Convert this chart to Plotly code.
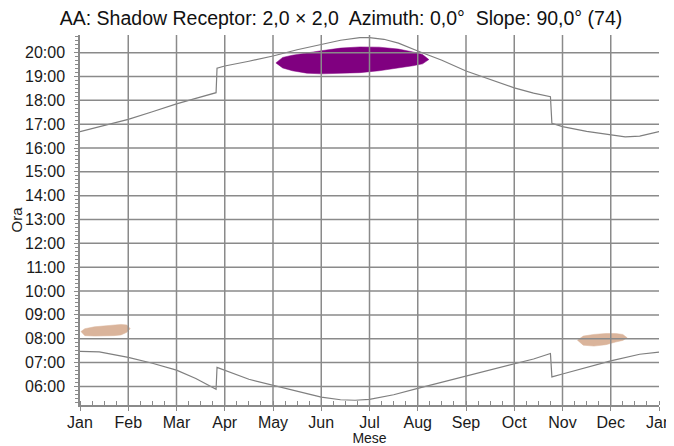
import plotly.graph_objects as go

# month axis: 0 = 1 Jan, 12 = 1 Jan next year
months = ["Jan", "Feb", "Mar", "Apr", "May", "Jun", "Jul",
          "Aug", "Sep", "Oct", "Nov", "Dec", "Jan"]
hours = list(range(6, 21))
hour_labels = [f"{h:02d}:00" for h in hours]

# sunset / sunrise (decimal hours) with DST jumps
sunset_m = [0, 0.5, 1, 1.5, 2, 2.4, 2.82, 2.84, 3, 3.5, 4, 4.5, 5, 5.4, 5.8,
            6, 6.3, 6.6, 7, 7.5, 8, 8.5, 9, 9.4, 9.75, 9.78, 10, 10.5, 11,
            11.3, 11.6, 12]
sunset_h = [16.69, 16.95, 17.2, 17.52, 17.85, 18.08, 18.32, 19.35, 19.44,
            19.64, 19.86, 20.12, 20.36, 20.52, 20.63, 20.63, 20.56, 20.4,
            20.07, 19.68, 19.23, 18.86, 18.52, 18.3, 18.15, 17.04, 16.9,
            16.7, 16.55, 16.47, 16.5, 16.69]

sunrise_m = [0, 0.4, 1, 1.5, 2, 2.4, 2.82, 2.84, 3.5, 4, 4.5, 5, 5.4, 5.7,
             6, 6.5, 7, 7.5, 8, 8.5, 9, 9.4, 9.75, 9.78, 10, 10.5, 11, 11.6,
             12]
sunrise_h = [7.47, 7.45, 7.22, 6.97, 6.68, 6.33, 5.88, 6.8, 6.3, 6.05,
             5.78, 5.55, 5.44, 5.42, 5.46, 5.65, 5.92, 6.18, 6.43, 6.69,
             6.94, 7.15, 7.38, 6.4, 6.52, 6.8, 7.07, 7.35, 7.44]

# shadow periods: day position, shadow start and end time
summer_m = [4.06, 4.2, 4.4, 4.7, 5.0, 5.4, 5.8, 6.2, 6.6, 6.9, 7.1, 7.23]
summer_start = [19.57, 19.36, 19.24, 19.14, 19.11, 19.12, 19.16, 19.24,
                19.35, 19.45, 19.53, 19.71]
summer_end = [19.57, 19.8, 19.89, 19.99, 20.08, 20.19, 20.24, 20.23, 20.15,
              20.03, 19.92, 19.71]

jan_m = [0.02, 0.1, 0.3, 0.5, 0.7, 0.85, 0.97, 1.04]
jan_start = [8.3, 8.13, 8.11, 8.11, 8.13, 8.16, 8.27, 8.42]
jan_end = [8.3, 8.42, 8.5, 8.54, 8.58, 8.6, 8.58, 8.42]

nov_m = [10.31, 10.43, 10.65, 10.9, 11.1, 11.25, 11.34]
nov_start = [7.94, 7.73, 7.69, 7.75, 7.86, 7.93, 8.04]
nov_end = [7.94, 8.11, 8.18, 8.22, 8.22, 8.18, 8.04]

GRID = "#8a8a8a"
CURVE = "#7f7f7f"


def blob(xs, lo, hi, color):
    return go.Scatter(
        x=xs + xs[::-1], y=lo + hi[::-1], mode="lines", fill="toself",
        fillcolor=color, line=dict(width=0.5, color=color),
        hoverinfo="skip", showlegend=False,
    )


fig = go.Figure()
fig.add_trace(blob(summer_m, summer_start, summer_end, "#800080"))
fig.add_trace(blob(jan_m, jan_start, jan_end, "#dab49b"))
fig.add_trace(blob(nov_m, nov_start, nov_end, "#dab49b"))
for xs, ys in [(sunset_m, sunset_h), (sunrise_m, sunrise_h)]:
    fig.add_trace(go.Scatter(x=xs, y=ys, mode="lines",
                             line=dict(color=CURVE, width=1.2),
                             showlegend=False))

# grid drawn above the shadow areas, as in the original
shapes = []
for m in range(1, 12):
    shapes.append(dict(type="line", xref="x", yref="paper", x0=m, x1=m,
                       y0=0, y1=1, layer="above",
                       line=dict(color=GRID, width=1.5)))
for h in hours:
    shapes.append(dict(type="line", xref="paper", yref="y", x0=0, x1=1,
                       y0=h, y1=h, layer="above",
                       line=dict(color=GRID, width=1.5)))

# the page body adds an 8px offset, so the figure is 8px smaller
fig.update_layout(
    width=666, height=438,
    margin=dict(l=72, r=15, t=27, b=41, autoexpand=False),
    paper_bgcolor="white", plot_bgcolor="white",
    font=dict(family="Arial, Liberation Sans", size=16, color="#1a1a1a"),
    title=dict(text="AA: Shadow Receptor: 2,0 × 2,0  Azimuth: 0,0°  Slope: 90,0° (74)",
               x=0.5, xanchor="center", y=0.976, yanchor="middle",
               font=dict(size=19.5, color="#111")),
    shapes=shapes,
    xaxis=dict(
        range=[0, 12], tickmode="array", tickvals=list(range(13)),
        ticktext=months, showgrid=False, zeroline=False, automargin=False,
        showline=True, linecolor=GRID, linewidth=1.5,
        ticks="outside", ticklen=4, tickcolor=GRID,
        minor=dict(tickmode="linear", tick0=0, dtick=0.25, ticks="inside",
                   ticklen=4, tickcolor=GRID, showgrid=False),
        ticklabelstandoff=-2,
        title=dict(text="Mese", standoff=0, font=dict(size=14)),
    ),
    yaxis=dict(
        range=[5.22, 20.74], tickmode="array", tickvals=hours,
        ticktext=hour_labels, showgrid=False, zeroline=False, automargin=False,
        showline=True, linecolor=GRID, linewidth=1.5,
        ticks="outside", ticklen=4, tickcolor=GRID,
        minor=dict(tickmode="linear", tick0=0, dtick=1 / 6, ticks="outside",
                   ticklen=3, tickcolor=GRID, showgrid=False),
        ticklabelstandoff=6,
        title=dict(text="Ora", standoff=6, font=dict(size=15)),
    ),
)

fig.write_html("out.html")
